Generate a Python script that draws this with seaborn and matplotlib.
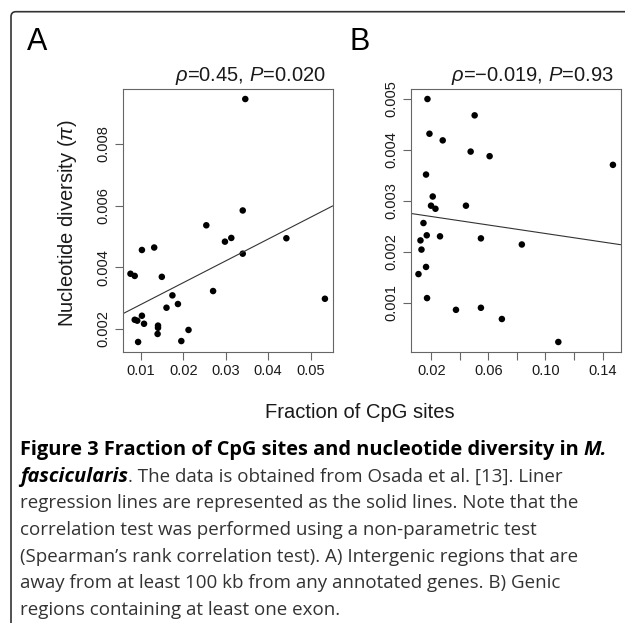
import matplotlib
matplotlib.use('Agg')

import numpy as np
import pandas as pd
import matplotlib.pyplot as plt
import seaborn as sns
from matplotlib.patches import FancyBboxPatch

# =========================================================
# DATA
# =========================================================

# A) intergenic regions
a_cpg = [0.0075, 0.0085, 0.0102, 0.0131, 0.0149, 0.0085, 0.0091, 0.0102, 0.0107,
         0.0093, 0.0140, 0.0140, 0.0139, 0.0160, 0.0174, 0.0187, 0.0195, 0.0212,
         0.0254, 0.0270, 0.0298, 0.0313, 0.0340, 0.0340, 0.0346, 0.0443, 0.0534]
a_pi = [0.00379, 0.00372, 0.00456, 0.00464, 0.00369, 0.00230, 0.00227, 0.00243, 0.00217,
        0.00158, 0.00211, 0.00204, 0.00184, 0.00269, 0.00309, 0.00281, 0.00161, 0.00197,
        0.00536, 0.00323, 0.00483, 0.00495, 0.00584, 0.00444, 0.00945, 0.00494, 0.00298]

# B) genic regions
b_cpg = [0.0172, 0.0503, 0.0186, 0.0279, 0.0475, 0.0608, 0.1473, 0.0162, 0.0209,
         0.0197, 0.0228, 0.0442, 0.0144, 0.0167, 0.0123, 0.0260, 0.0547, 0.0834,
         0.0130, 0.0162, 0.0109, 0.0169, 0.0372, 0.0547, 0.0694, 0.1090]
b_pi = [0.00499, 0.00467, 0.00431, 0.00418, 0.00396, 0.00387, 0.00370, 0.00351, 0.00308,
        0.00290, 0.00284, 0.00290, 0.00256, 0.00232, 0.00222, 0.00230, 0.00226, 0.00214,
        0.00204, 0.00170, 0.00156, 0.00109, 0.00086, 0.00090, 0.00068, 0.00023]

a_xticks = [0.01, 0.02, 0.03, 0.04, 0.05]
a_xlabels = ['0.01', '0.02', '0.03', '0.04', '0.05']
a_yticks = [0.002, 0.004, 0.006, 0.008]
a_ylabels = ['0.002', '0.004', '0.006', '0.008']

b_xticks = [0.02, 0.04, 0.06, 0.08, 0.10, 0.12, 0.14]
b_xlabels = ['0.02', '', '0.06', '', '0.10', '', '0.14']
b_yticks = [0.001, 0.002, 0.003, 0.004, 0.005]
b_ylabels = ['0.001', '0.002', '0.003', '0.004', '0.005']

a_stat = '$\\rho$=0.45, $P$=0.020'
b_stat = '$\\rho$=\u22120.019, $P$=0.93'

caption_lines = [
    [('Figure 3 Fraction of CpG sites and nucleotide diversity in', 'bold', 'normal'),
     ('M.', 'bold', 'italic')],
    [('fascicularis', 'bold', 'italic'),
     ('. The data is obtained from Osada et al. [13]. Liner', 'normal', 'normal')],
    [('regression lines are represented as the solid lines. Note that the', 'normal', 'normal')],
    [('correlation test was performed using a non-parametric test', 'normal', 'normal')],
    [('(Spearman\u2019s rank correlation test). A) Intergenic regions that are', 'normal', 'normal')],
    [('away from at least 100 kb from any annotated genes. B) Genic', 'normal', 'normal')],
    [('regions containing at least one exon.', 'normal', 'normal')],
]

# =========================================================
# STYLE
# =========================================================

sns.set_style('ticks')
plt.rcParams['font.family'] = ['Liberation Sans', 'DejaVu Sans']
plt.rcParams['mathtext.fontset'] = 'custom'
plt.rcParams['mathtext.rm'] = 'Liberation Sans'
plt.rcParams['mathtext.it'] = 'Liberation Sans:italic'

W, H = 625, 623
fig = plt.figure(figsize=(W / 100, H / 100), dpi=100)

frame_col = '#666666'
text_col = '#1a1a1a'


def px_axes(left, top, right, bottom):
    return fig.add_axes([left / W, 1 - bottom / H, (right - left) / W, (bottom - top) / H])


def scatter_panel(ax, x, y, xticks, xlabels, yticks, ylabels, stat):
    df = pd.DataFrame({'cpg': x, 'pi': y})
    sns.scatterplot(data=df, x='cpg', y='pi', ax=ax, color='black', s=22,
                    edgecolor='none', linewidth=0)
    ax.margins(0.04)
    ax.autoscale_view()
    ax.set_xlim(ax.get_xlim())
    ax.set_ylim(ax.get_ylim())
    sns.regplot(data=df, x='cpg', y='pi', ax=ax, scatter=False, ci=None,
                truncate=False, line_kws={'color': '#333333', 'lw': 0.8})
    ax.set_xlabel('')
    ax.set_ylabel('')
    ax.set_xticks(xticks)
    ax.set_xticklabels(xlabels)
    ax.set_yticks(yticks)
    ax.set_yticklabels(ylabels, rotation=90, va='center')
    ax.tick_params(axis='both', length=5.5, width=0.8, color=frame_col,
                   labelsize=10.5, labelcolor=text_col, pad=3.5)
    for sp in ax.spines.values():
        sp.set_color(frame_col)
        sp.set_linewidth(0.8)
    ax.text(0.967, 1.03, stat, transform=ax.transAxes, ha='right', va='baseline',
            fontsize=14.5, color=text_col)


ax_a = px_axes(122.7, 89.3, 332.7, 351.7)
scatter_panel(ax_a, a_cpg, a_pi, a_xticks, a_xlabels, a_yticks, a_ylabels, a_stat)
ax_a.set_ylabel('Nucleotide diversity ($\\pi$)', fontsize=14.5, color=text_col)
ax_a.yaxis.set_label_coords(-0.21, 0.49)

ax_b = px_axes(410.7, 89.3, 620.7, 351.7)
scatter_panel(ax_b, b_cpg, b_pi, b_xticks, b_xlabels, b_yticks, b_ylabels, b_stat)

# panel letters and shared x label
fig.text(27 / W, 1 - 50 / H, 'A', fontsize=22, color='black', va='baseline')
fig.text(349 / W, 1 - 50 / H, 'B', fontsize=22, color='black', va='baseline')
fig.text(360 / W, 1 - 418 / H, 'Fraction of CpG sites', fontsize=14.5,
         color=text_col, ha='center', va='baseline')

# outer frame with rounded corner
frame = FancyBboxPatch((11 / W, -10 / H), 700 / W, (H - 11.7 + 10) / H,
                       boxstyle='round,pad=0,rounding_size=0.008',
                       transform=fig.transFigure, fill=False,
                       edgecolor='#333333', linewidth=1.2, clip_on=False)
fig.patches.append(frame)

# caption
renderer = fig.canvas.get_renderer()
base_y = 455
line_step = 26.7
for i, pieces in enumerate(caption_lines):
    x = 20
    y = base_y + i * line_step
    for txt, weight, style in pieces:
        size = 14.4 if weight == 'bold' else 13.5
        t = fig.text(x / W, 1 - y / H, txt, fontsize=size, family='Open Sans',
                     weight=weight, style=style, va='baseline',
                     color='black' if weight == 'bold' else '#333333')
        bb = t.get_window_extent(renderer=renderer)
        x = bb.x1
        if txt.endswith('in'):
            x += 5

fig.savefig('out.png', dpi=100)
